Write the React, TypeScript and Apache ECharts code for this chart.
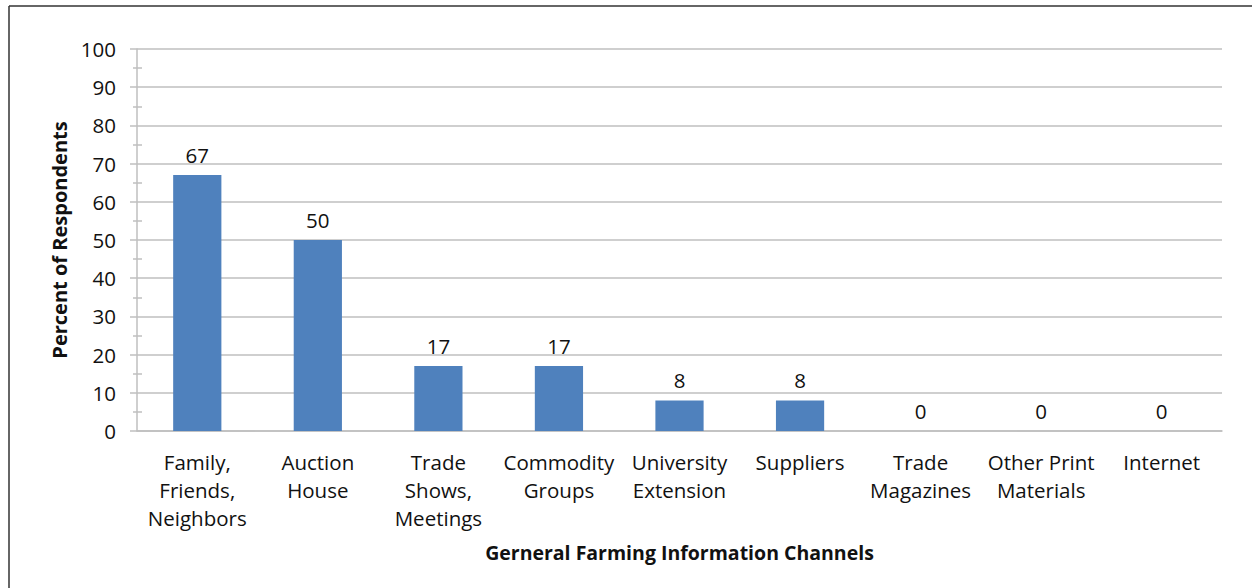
import React, { useEffect, useRef } from "react";
import * as echarts from "echarts";

const categories = [
  "Family,\nFriends,\nNeighbors",
  "Auction\nHouse",
  "Trade\nShows,\nMeetings",
  "Commodity\nGroups",
  "University\nExtension",
  "Suppliers",
  "Trade\nMagazines",
  "Other Print\nMaterials",
  "Internet",
];
const values = [67, 50, 17, 17, 8, 8, 0, 0, 0];
const yTitle = "Percent of Respondents";
const xTitle = "Gerneral Farming Information Channels";

const FONT = "'Open Sans', sans-serif";
const GRID = "#BFBFBF";
const TXT = "#111111";

export default function App() {
  const ref = useRef<HTMLDivElement>(null);
  useEffect(() => {
    document.body.style.margin = "0";
    const chart = echarts.init(ref.current!, null, { renderer: "svg" });
    chart.setOption({
      animation: false,
      backgroundColor: "#ffffff",
      textStyle: { fontFamily: FONT },
      grid: { left: 137, right: 30, top: 49, bottom: 157 },
      graphic: [
        { type: "line", shape: { x1: 9, y1: 6, x2: 1252, y2: 6 }, style: { stroke: "#333", lineWidth: 1.5 } },
        { type: "line", shape: { x1: 9, y1: 6, x2: 9, y2: 588 }, style: { stroke: "#333", lineWidth: 1.5 } },
      ],
      xAxis: {
        type: "category",
        data: categories,
        name: xTitle,
        nameLocation: "middle",
        nameGap: 111,
        nameTextStyle: { fontFamily: FONT, fontSize: 19.5, fontWeight: "bold", color: TXT },
        axisLine: { show: true, lineStyle: { color: GRID, width: 1.5 } },
        axisTick: { show: false },
        axisLabel: { fontFamily: FONT, fontSize: 20.5, color: TXT, lineHeight: 28, margin: 17, interval: 0 },
      },
      yAxis: [
        {
          type: "value",
          min: 0,
          max: 100,
          interval: 10,
          name: yTitle,
          nameLocation: "middle",
          nameGap: 66,
          nameTextStyle: { fontFamily: FONT, fontSize: 20, fontWeight: "bold", color: TXT },
          axisLine: { show: true, lineStyle: { color: GRID, width: 1.5 } },
          axisTick: { show: true, length: 7, lineStyle: { color: GRID, width: 1.5 } },
          minorTick: { show: true, splitNumber: 2, length: 4, lineStyle: { color: GRID, width: 1.5 } },
          splitLine: { show: true, lineStyle: { color: GRID, width: 1.5 } },
          axisLabel: { fontFamily: FONT, fontSize: 20.5, color: TXT, margin: 21 },
        },
        {
          type: "value",
          position: "left",
          min: 0,
          max: 100,
          interval: 10,
          axisLine: { show: false },
          axisTick: { show: false, inside: true },
          minorTick: { show: true, splitNumber: 2, length: 5, lineStyle: { color: GRID, width: 1.5 } },
          splitLine: { show: false },
          axisLabel: { show: false },
        },
      ],
      series: [
        {
          type: "bar",
          data: values,
          barWidth: "40%",
          itemStyle: { color: "#4F81BD" },
          label: { show: true, position: "top", distance: 10, fontFamily: FONT, fontSize: 20.5, color: TXT },
        },
      ],
    });
    return () => chart.dispose();
  }, []);
  return <div ref={ref} style={{ width: 1252, height: 588 }} />;
}
